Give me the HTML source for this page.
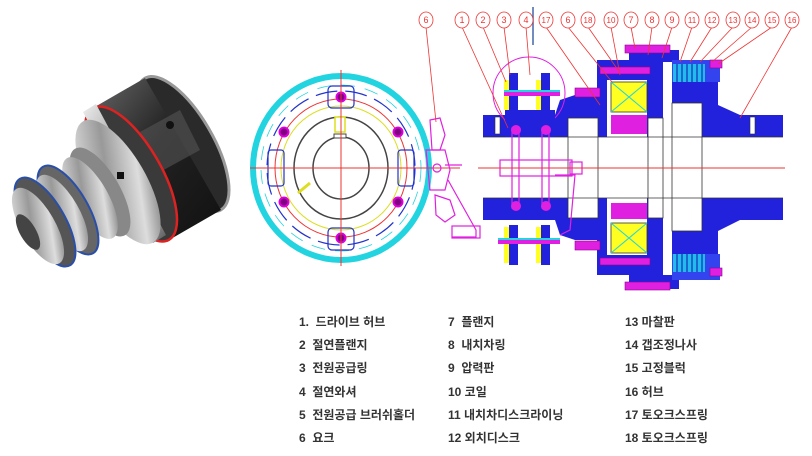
<!DOCTYPE html>
<html><head><meta charset="utf-8"><style>
html,body{margin:0;padding:0;background:#fff;}
.wrap{position:relative;width:812px;height:456px;overflow:hidden;background:#fff;}
.lg{position:absolute;font-family:"Liberation Sans","Noto Sans CJK KR","NanumGothic",sans-serif;font-size:12px;font-weight:bold;color:#333;white-space:nowrap;line-height:14px;}
</style></head><body><div class="wrap">
<svg width="812" height="456" viewBox="0 0 812 456" style="position:absolute;left:0;top:0">
<defs>
<linearGradient id="dk" x1="0" y1="0" x2="1" y2="1"><stop offset="0" stop-color="#666"/><stop offset=".45" stop-color="#222"/><stop offset="1" stop-color="#111"/></linearGradient>
<linearGradient id="sv" x1="0" y1="0" x2="1" y2="1"><stop offset="0" stop-color="#eee"/><stop offset=".4" stop-color="#999"/><stop offset=".7" stop-color="#ddd"/><stop offset="1" stop-color="#555"/></linearGradient>
</defs>
<!-- PHOTO -->
<g>
<ellipse cx="183" cy="144" rx="30" ry="76" transform="rotate(-30 183 144)" fill="#2a2a2a" stroke="#999" stroke-width="3"/>
<polygon points="169,240 221,210 145,78 93,108" fill="url(#dk)"/>
<polygon points="160,172 200,150 180,110 140,132" fill="#555" opacity=".6"/>
<ellipse cx="131" cy="174" rx="30" ry="76" transform="rotate(-30 131 174)" fill="#3a3a3a" stroke="#d22" stroke-width="2.5"/>
<polygon points="153,243 166,235 96,104 83,112" fill="url(#sv)"/>
<ellipse cx="118" cy="182" rx="28" ry="70" transform="rotate(-30 118 182)" fill="url(#sv)"/>
<ellipse cx="100" cy="192" rx="20" ry="50" transform="rotate(-30 100 192)" fill="#888"/>
<ellipse cx="90" cy="198" rx="18" ry="46" transform="rotate(-30 90 198)" fill="url(#sv)"/>
<ellipse cx="68" cy="210" rx="20" ry="50" transform="rotate(-30 68 210)" fill="#666" stroke="#2a4fa8" stroke-width="2"/>
<ellipse cx="62" cy="213" rx="17" ry="43" transform="rotate(-30 62 213)" fill="url(#sv)"/>
<ellipse cx="45" cy="222" rx="20" ry="50" transform="rotate(-30 45 222)" fill="#555" stroke="#2a4fa8" stroke-width="2"/>
<ellipse cx="38" cy="226" rx="17" ry="43" transform="rotate(-30 38 226)" fill="url(#sv)"/>
<ellipse cx="28" cy="232" rx="8" ry="20" transform="rotate(-30 28 232)" fill="#444"/>
<circle cx="170" cy="125" r="4" fill="#111"/>
<rect x="117" y="172" width="7" height="7" fill="#111"/>
</g>
<!-- CIRCLE VIEW -->
<g fill="none">
<ellipse cx="341" cy="168" rx="88" ry="92" stroke="#22d3e0" stroke-width="6"/>
<ellipse cx="341" cy="168" rx="74" ry="77" stroke="#2233cc" stroke-width="1.2" stroke-dasharray="22 8"/>
<ellipse cx="341" cy="168" rx="66" ry="69" stroke="#e33" stroke-width="1"/>
<ellipse cx="341" cy="168" rx="60" ry="62" stroke="#dddd22" stroke-width="1"/>
<ellipse cx="341" cy="168" rx="80" ry="83" stroke="#22d3e0" stroke-width="0.8" stroke-dasharray="14 10"/>
<ellipse cx="341" cy="168" rx="47" ry="51" stroke="#444" stroke-width="1.5"/>
<ellipse cx="341" cy="168" rx="28" ry="31" stroke="#444" stroke-width="1.5"/>
<rect x="335" y="117" width="10" height="15" fill="#fff" stroke="#dd2" stroke-width="1.5"/>
<rect x="334" y="134" width="12" height="4" fill="#fff" stroke="#444"/>
<line x1="298" y1="193" x2="310" y2="183" stroke="#dd2" stroke-width="3"/>
<g fill="#800080" stroke="#d0d" stroke-width="2">
<circle cx="341" cy="97" r="4.5"/><circle cx="341" cy="238" r="4.5"/>
<circle cx="284" cy="132" r="4.5"/><circle cx="398" cy="132" r="4.5"/>
<circle cx="284" cy="202" r="4.5"/><circle cx="398" cy="202" r="4.5"/>
</g>
<g stroke="#2233cc" stroke-width="1.2">
<rect x="328" y="86" width="26" height="22" rx="4"/><rect x="328" y="228" width="26" height="22" rx="4"/>
<rect x="268" y="150" width="16" height="36" rx="3"/><rect x="398" y="150" width="16" height="36" rx="3"/>
</g>
</g>
<line x1="250" y1="168" x2="460" y2="168" stroke="#e33" stroke-width="1"/>
<line x1="341" y1="70" x2="341" y2="266" stroke="#e33" stroke-width="1"/>
<!-- brush holder -->
<g fill="none" stroke="#e020e0" stroke-width="1.2">
<path d="M430 120 L440 118 L445 135 L440 150 L432 150 Z"/>
<path d="M426 150 L445 150 L450 170 L445 190 L430 190 Z"/>
<circle cx="437" cy="168" r="4"/>
<path d="M435 195 L450 200 L455 215 L445 222 L436 215 Z"/>
<path d="M448 180 L476 230 L476 237 L452 237"/>
<rect x="452" y="226" width="28" height="12"/>
<line x1="445" y1="165" x2="462" y2="165"/>
</g>
<!-- SECTION VIEW -->
<g>
<rect x="483" y="115" width="115" height="22" fill="#2222dd"/>
<rect x="483" y="198" width="115" height="22" fill="#2222dd"/>
<polygon points="555,115 560,100 575,95 598,95 598,115" fill="#2222dd"/>
<polygon points="555,220 560,235 575,240 598,240 598,220" fill="#2222dd"/>
<rect x="597" y="60" width="52" height="20" fill="#2222dd"/>
<rect x="597" y="255" width="52" height="20" fill="#2222dd"/>
<rect x="597" y="80" width="10" height="57" fill="#2222dd"/>
<rect x="597" y="198" width="10" height="57" fill="#2222dd"/>
<rect x="647" y="62" width="16" height="228" fill="#2222dd"/>
<rect x="629" y="50" width="50" height="12" fill="#2222dd"/>
<rect x="629" y="275" width="50" height="14" fill="#2222dd"/>
<polygon points="672,82 718,82 718,105 740,115 783,115 783,137 672,137" fill="#2222dd"/>
<polygon points="672,254 718,254 718,231 740,220 783,220 783,198 672,198" fill="#2222dd"/>
<rect x="672" y="60" width="48" height="22" fill="#3344ee"/>
<rect x="672" y="254" width="48" height="26" fill="#3344ee"/>
<rect x="483" y="137" width="300" height="61" fill="#fff"/>
<rect x="568" y="118" width="30" height="100" fill="#fff" stroke="#333" stroke-width=".8"/>
<rect x="672" y="103" width="30" height="128" fill="#fff" stroke="#333" stroke-width=".8"/>
<rect x="648" y="118" width="15" height="100" fill="#fff" stroke="#333" stroke-width=".8"/>
<line x1="483" y1="137" x2="783" y2="137" stroke="#333" stroke-width=".8"/>
<line x1="483" y1="198" x2="783" y2="198" stroke="#333" stroke-width=".8"/>
<rect x="495" y="117" width="5" height="17" fill="#fff" stroke="#333" stroke-width=".6"/>
<rect x="750" y="117" width="5" height="17" fill="#fff" stroke="#333" stroke-width=".6"/>
<rect x="611" y="82" width="36" height="30" fill="#ffff22" stroke="#333" stroke-width=".8"/>
<path d="M611 82 L647 112 M647 82 L611 112" stroke="#22d3e0" stroke-width="1"/>
<rect x="611" y="223" width="36" height="30" fill="#ffff22" stroke="#333" stroke-width=".8"/>
<path d="M611 223 L647 253 M647 223 L611 253" stroke="#22d3e0" stroke-width="1"/>
<rect x="611" y="115" width="36" height="19" fill="#e020e0"/>
<rect x="611" y="203" width="36" height="16" fill="#e020e0"/>
<rect x="673" y="64" width="32" height="18" fill="#22bbee"/>
<rect x="673" y="254" width="32" height="18" fill="#22bbee"/>
<g stroke="#1111aa" stroke-width="1"><path d="M677 64v18M682 64v18M687 64v18M692 64v18M697 64v18M702 64v18M677 254v18M682 254v18M687 254v18M692 254v18M697 254v18M702 254v18"/></g>
<g fill="#e020e0" stroke="#900090" stroke-width=".6">
<rect x="625" y="45" width="45" height="8"/><rect x="625" y="282" width="45" height="8"/>
<rect x="600" y="67" width="50" height="7"/><rect x="600" y="258" width="50" height="7"/>
<rect x="575" y="88" width="25" height="9"/><rect x="575" y="241" width="25" height="9"/>
<rect x="710" y="60" width="12" height="8"/><rect x="710" y="268" width="12" height="8"/>
</g>
<circle cx="529" cy="93" r="36" fill="none" stroke="#e020e0" stroke-width="1"/>
<g fill="#ffff22"><rect x="504" y="80" width="7" height="30"/><rect x="536" y="80" width="7" height="30"/><rect x="504" y="227" width="7" height="36"/><rect x="536" y="227" width="7" height="36"/></g>
<g fill="#2222dd"><rect x="509" y="73" width="9" height="40"/><rect x="541" y="73" width="9" height="40"/><rect x="509" y="225" width="9" height="40"/><rect x="541" y="225" width="9" height="40"/>
<rect x="505" y="110" width="50" height="27"/></g>
<rect x="504" y="90" width="56" height="6" fill="#e020e0"/>
<rect x="504" y="90" width="56" height="2" fill="#22d3e0"/>
<rect x="498" y="238" width="62" height="6" fill="#e020e0"/>
<rect x="498" y="238" width="62" height="2" fill="#22d3e0"/>
<g fill="none" stroke="#e020e0" stroke-width="1.2">
<rect x="512" y="128" width="7" height="80"/><rect x="542" y="128" width="7" height="80"/>
<rect x="500" y="160" width="72" height="16"/><rect x="570" y="162" width="12" height="12"/>
<path d="M555 175 L575 175 L570 230 L560 235"/>
</g>
<g fill="#e020e0"><circle cx="516" cy="130" r="5"/><circle cx="546" cy="130" r="5"/><circle cx="516" cy="206" r="5"/><circle cx="546" cy="206" r="5"/></g>
</g>
<line x1="478" y1="168" x2="785" y2="168" stroke="#e33" stroke-width="1"/>
<line x1="533" y1="7" x2="533" y2="45" stroke="#4466aa" stroke-width="1.5"/>
<g stroke="#e33" stroke-width=".8" fill="none">
<path d="M426 27 L436 122"/><path d="M462 27 L508 128"/><path d="M483 27 L506 82"/><path d="M504 27 L510 75"/><path d="M526 27 L530 75"/>
<path d="M546 27 L600 105"/><path d="M568 27 L612 82"/><path d="M588 27 L618 70"/><path d="M611 27 L620 75"/>
<path d="M631 27 L635 48"/><path d="M652 27 L648 55"/><path d="M672 27 L662 58"/><path d="M692 27 L680 62"/><path d="M712 27 L690 62"/>
<path d="M733 27 L700 62"/><path d="M752 27 L712 62"/><path d="M772 27 L718 64"/><path d="M792 27 L740 118"/>
</g>
<g font-family="Liberation Sans,sans-serif" font-size="9" fill="#e33" text-anchor="middle" stroke="#e33" stroke-width=".8">
<g fill="#fff">
<ellipse cx="426" cy="20" rx="7" ry="8"/><ellipse cx="462" cy="20" rx="7" ry="8"/><ellipse cx="483" cy="20" rx="7" ry="8"/><ellipse cx="504" cy="20" rx="7" ry="8"/><ellipse cx="526" cy="20" rx="7" ry="8"/><ellipse cx="546" cy="20" rx="7" ry="8"/><ellipse cx="568" cy="20" rx="7" ry="8"/><ellipse cx="588" cy="20" rx="7" ry="8"/><ellipse cx="611" cy="20" rx="7" ry="8"/><ellipse cx="631" cy="20" rx="7" ry="8"/><ellipse cx="652" cy="20" rx="7" ry="8"/><ellipse cx="672" cy="20" rx="7" ry="8"/><ellipse cx="692" cy="20" rx="7" ry="8"/><ellipse cx="712" cy="20" rx="7" ry="8"/><ellipse cx="733" cy="20" rx="7" ry="8"/><ellipse cx="752" cy="20" rx="7" ry="8"/><ellipse cx="772" cy="20" rx="7" ry="8"/><ellipse cx="792" cy="20" rx="7" ry="8"/>
</g>
<g stroke="none" fill="#e33">
<text x="426" y="23">6</text><text x="462" y="23">1</text><text x="483" y="23">2</text><text x="504" y="23">3</text><text x="526" y="23">4</text><text x="546" y="23" font-size="8">17</text><text x="568" y="23">6</text><text x="588" y="23" font-size="8">18</text><text x="611" y="23" font-size="8">10</text><text x="631" y="23">7</text><text x="652" y="23">8</text><text x="672" y="23">9</text><text x="692" y="23" font-size="8">11</text><text x="712" y="23" font-size="8">12</text><text x="733" y="23" font-size="8">13</text><text x="752" y="23" font-size="8">14</text><text x="772" y="23" font-size="8">15</text><text x="792" y="23" font-size="8">16</text>
</g></g>
</svg>
<div class="lg" style="left:299px;top:315px">1.&nbsp; 드라이브 허브</div>
<div class="lg" style="left:299px;top:338px">2&nbsp; 절연플랜지</div>
<div class="lg" style="left:299px;top:361px">3&nbsp; 전원공급링</div>
<div class="lg" style="left:299px;top:385px">4&nbsp; 절연와셔</div>
<div class="lg" style="left:299px;top:408px">5&nbsp; 전원공급 브러쉬홀더</div>
<div class="lg" style="left:299px;top:431px">6&nbsp; 요크</div>
<div class="lg" style="left:448px;top:315px">7&nbsp; 플랜지</div>
<div class="lg" style="left:448px;top:338px">8&nbsp; 내치차링</div>
<div class="lg" style="left:448px;top:361px">9&nbsp; 압력판</div>
<div class="lg" style="left:448px;top:385px">10 코일</div>
<div class="lg" style="left:448px;top:408px">11 내치차디스크라이닝</div>
<div class="lg" style="left:448px;top:431px">12 외치디스크</div>
<div class="lg" style="left:625px;top:315px">13 마찰판</div>
<div class="lg" style="left:625px;top:338px">14 갭조정나사</div>
<div class="lg" style="left:625px;top:361px">15 고정블럭</div>
<div class="lg" style="left:625px;top:385px">16 허브</div>
<div class="lg" style="left:625px;top:408px">17 토오크스프링</div>
<div class="lg" style="left:625px;top:431px">18 토오크스프링</div>
</div></body></html>
